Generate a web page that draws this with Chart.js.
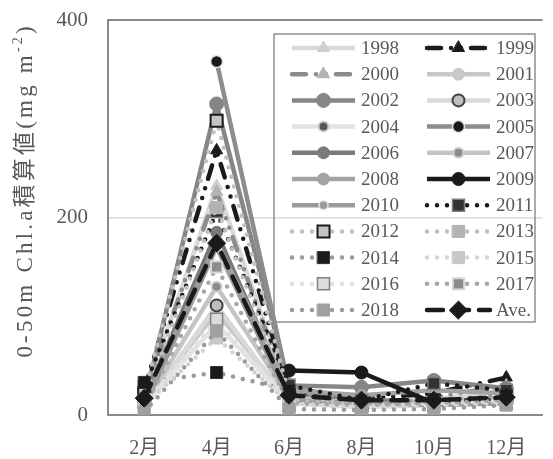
<!DOCTYPE html>
<html>
<head>
<meta charset="utf-8">
<script src="https://cdn.jsdelivr.net/npm/chart.js@4.4.0/dist/chart.umd.min.js"></script>
<style>
  html, body { margin: 0; padding: 0; background: #fff; }
  #wrap { width: 553px; height: 459px; }
</style>
</head>
<body>
<div id="wrap"><canvas id="chlChart"></canvas></div>
<script>
const months = ["2月", "4月", "6月", "8月", "10月", "12月"];
const yTicks = [0, 200, 400];

// 0-50m Chl.a integrated values by year (mg m-2), Feb..Dec
const y1998 = [18, 232, 22, 14, 16, 24];
const y1999 = [26, 268, 24, 16, 22, 38];
const y2000 = [20, 226, 18, 12, 18, 30];
const y2001 = [12, 104, 16, 10, 12, 16];
const y2002 = [14, 315, 30, 28, 35, 27];
const y2003 = [8, 111, 12, 8, 10, 14];
const y2004 = [10, 92, 14, 9, 12, 12];
const y2005 = [null, 358, 28, 16, 12, 15];
const y2006 = [16, 185, 20, 14, 12, 18];
const y2007 = [10, 130, 18, 12, 10, 15];
const y2008 = [12, 175, 25, 20, 25, 22];
const y2009 = [null, null, 45, 43, 12, 18];
const y2010 = [8, 170, 15, 12, 10, 12];
const y2011 = [28, 206, 30, 15, 32, 25];
const y2012 = [22, 298, 20, 10, 15, 18];
const y2013 = [15, 210, 15, 10, 10, 15];
const y2014 = [33, 43, 25, 12, 15, 20];
const y2015 = [10, 78, 12, 8, 12, 14];
const y2016 = [12, 97, 10, 8, 10, 12];
const y2017 = [8, 150, 12, 10, 12, 15];
const y2018 = [3, 85, 6, 5, 6, 10];
const yAve = [17, 174, 20, 15, 15, 18];

const seriesNames = ["1998", "1999", "2000", "2001", "2002", "2003", "2004", "2005",
  "2006", "2007", "2008", "2009", "2010", "2011", "2012", "2013", "2014", "2015",
  "2016", "2017", "2018", "Ave."];
const seriesValues = [y1998, y1999, y2000, y2001, y2002, y2003, y2004, y2005,
  y2006, y2007, y2008, y2009, y2010, y2011, y2012, y2013, y2014, y2015,
  y2016, y2017, y2018, yAve];

const SOLID = [];
const DASH_DOT_DOT = [14, 10, 0, 10, 0, 10];
const DOTS = [0, 10];
const LONG_DASH = [16, 10];

// line colour / dash, marker shape / radius / fill / edge
const styles = [
  { line: "#d9d9d9", dash: SOLID, mark: "triangle", r: 7, fill: "#cfcfcf", edge: "#cfcfcf" },
  { line: "#1a1a1a", dash: DASH_DOT_DOT, mark: "triangle", r: 7, fill: "#1a1a1a", edge: "#1a1a1a" },
  { line: "#8c8c8c", dash: DASH_DOT_DOT, mark: "triangle", r: 7, fill: "#b3b3b3", edge: "#b3b3b3" },
  { line: "#c8c8c8", dash: SOLID, mark: "circle", r: 6, fill: "#c8c8c8", edge: "#c8c8c8" },
  { line: "#868686", dash: SOLID, mark: "circle", r: 7, fill: "#868686", edge: "#868686" },
  { line: "#d9d9d9", dash: SOLID, mark: "circle", r: 6, fill: "#bfbfbf", edge: "#404040", ew: 2 },
  { line: "#e3e3e3", dash: SOLID, mark: "circle", r: 5, fill: "#595959", edge: "#d0d0d0", ew: 2 },
  { line: "#8c8c8c", dash: SOLID, mark: "circle", r: 6, fill: "#1a1a1a", edge: "#e6e6e6", ew: 1.5 },
  { line: "#7a7a7a", dash: SOLID, mark: "circle", r: 6, fill: "#7a7a7a", edge: "#7a7a7a" },
  { line: "#c4c4c4", dash: SOLID, mark: "circle", r: 5, fill: "#8c8c8c", edge: "#d0d0d0", ew: 2 },
  { line: "#a3a3a3", dash: SOLID, mark: "circle", r: 6, fill: "#a3a3a3", edge: "#a3a3a3" },
  { line: "#1a1a1a", dash: SOLID, mark: "circle", r: 6.5, fill: "#1a1a1a", edge: "#1a1a1a" },
  { line: "#9a9a9a", dash: SOLID, mark: "circle", r: 4.5, fill: "#9a9a9a", edge: "#e6e6e6", ew: 1.5 },
  { line: "#1a1a1a", dash: DOTS, mark: "rect", r: 8.5, fill: "#333333", edge: "#808080", ew: 1.5 },
  { line: "#c0c0c0", dash: DOTS, mark: "rect", r: 8.5, fill: "#c4c4c4", edge: "#1a1a1a", ew: 2 },
  { line: "#c0c0c0", dash: DOTS, mark: "rect", r: 8.5, fill: "#b3b3b3", edge: "#b3b3b3" },
  { line: "#9a9a9a", dash: DOTS, mark: "rect", r: 8.5, fill: "#1a1a1a", edge: "#333333" },
  { line: "#d4d4d4", dash: DOTS, mark: "rect", r: 8.5, fill: "#c8c8c8", edge: "#c8c8c8" },
  { line: "#e0e0e0", dash: DOTS, mark: "rect", r: 8.5, fill: "#dcdcdc", edge: "#808080", ew: 1.5 },
  { line: "#a6a6a6", dash: DOTS, mark: "rect", r: 8, fill: "#8c8c8c", edge: "#d9d9d9", ew: 2 },
  { line: "#9a9a9a", dash: DOTS, mark: "rect", r: 8.5, fill: "#a0a0a0", edge: "#a0a0a0" },
  { line: "#1a1a1a", dash: LONG_DASH, mark: "rectRot", r: 9, fill: "#1a1a1a", edge: "#1a1a1a" },
];

const FONT = "'Liberation Serif', 'Noto Sans CJK JP', serif";
const TEXT = "#595959";
const FRAME = "#8a8a8a";

const datasets = seriesNames.map((name, i) => {
  const s = styles[i];
  return {
    label: name,
    data: seriesValues[i],
    borderColor: s.line,
    borderWidth: 4.5,
    borderDash: s.dash,
    borderCapStyle: s.dash.length ? "round" : "butt",
    borderJoinStyle: "round",
    pointStyle: s.mark,
    pointRadius: s.r,
    pointHoverRadius: s.r,
    pointBackgroundColor: s.fill,
    pointBorderColor: s.edge,
    pointBorderWidth: s.ew || 1,
    tension: 0,
    spanGaps: false,
    order: seriesNames.length - 1 - i,
  };
});

// top edge of the plot frame
const framePlugin = {
  id: "frame",
  beforeDatasetsDraw(chart) {
    const { ctx, chartArea: a } = chart;
    ctx.save();
    ctx.strokeStyle = FRAME;
    ctx.lineWidth = 2;
    ctx.beginPath();
    ctx.moveTo(a.left, a.top);
    ctx.lineTo(a.right, a.top);
    ctx.stroke();
    ctx.restore();
  },
};

// rotated y title, drawn glyph by glyph with a little tracking
const yTitlePlugin = {
  id: "yTitle",
  afterDraw(chart) {
    const ctx = chart.ctx;
    const track = 3.2;
    const parts = [
      { t: "0-50m Chl.a積算値(mg m", size: 23, dy: 0 },
      { t: "-2", size: 14, dy: -8 },
      { t: ")", size: 23, dy: 0 },
    ];
    const glyphs = [];
    ctx.save();
    ctx.fillStyle = TEXT;
    ctx.textBaseline = "middle";
    let total = 0;
    parts.forEach((p) => {
      ctx.font = p.size + "px " + FONT;
      Array.from(p.t).forEach((ch) => {
        const w = ctx.measureText(ch).width;
        glyphs.push({ ch, w, size: p.size, dy: p.dy });
        total += w + track;
      });
    });
    total -= track;
    ctx.translate(26, 192);
    ctx.rotate(-Math.PI / 2);
    let x = -total / 2;
    glyphs.forEach((g) => {
      ctx.font = g.size + "px " + FONT;
      ctx.fillText(g.ch, x, g.dy);
      x += g.w + track;
    });
    ctx.restore();
  },
};

// two-column legend with line samples and markers
const legendPlugin = {
  id: "sampleLegend",
  afterDraw(chart) {
    const ctx = chart.ctx;
    const box = { x: 274, y: 34, w: 261, h: 288 };
    const rowH = 26.2;
    const cols = [{ x0: 292, x1: 355, tx: 361 }, { x0: 427, x1: 490, tx: 496 }];
    ctx.save();
    ctx.strokeStyle = "#8f8f8f";
    ctx.lineWidth = 1.5;
    ctx.strokeRect(box.x, box.y, box.w, box.h);
    chart.data.datasets.forEach((ds, i) => {
      const c = cols[i % 2];
      const y = 48 + Math.floor(i / 2) * rowH;
      ctx.save();
      ctx.strokeStyle = ds.borderColor;
      ctx.lineWidth = ds.borderWidth;
      ctx.setLineDash(ds.borderDash);
      ctx.lineCap = ds.borderCapStyle;
      ctx.beginPath();
      ctx.moveTo(c.x0, y);
      ctx.lineTo(c.x1, y);
      ctx.stroke();
      ctx.setLineDash([]);
      ctx.fillStyle = ds.pointBackgroundColor;
      ctx.strokeStyle = ds.pointBorderColor;
      ctx.lineWidth = ds.pointBorderWidth;
      Chart.helpers.drawPoint(ctx, {
        pointStyle: ds.pointStyle,
        radius: ds.pointRadius,
        borderWidth: ds.pointBorderWidth,
        rotation: 0,
      }, (c.x0 + c.x1) / 2, y);
      ctx.restore();
      ctx.fillStyle = TEXT;
      ctx.font = "19px " + FONT;
      ctx.textBaseline = "middle";
      ctx.fillText(ds.label, c.tx, y + 1);
    });
    ctx.restore();
  },
};

new Chart(document.getElementById("chlChart"), {
  type: "line",
  data: { labels: months, datasets },
  options: {
    responsive: true,
    maintainAspectRatio: false,
    animation: false,
    events: [],
    layout: { padding: { top: 20, right: 0, left: 0, bottom: 0 } },
    plugins: {
      legend: { display: false },
      tooltip: { enabled: false },
    },
    scales: {
      x: {
        offset: true,
        grid: { display: false, drawTicks: false, offset: true },
        border: { display: true, color: FRAME, width: 2 },
        ticks: { color: TEXT, font: { family: FONT, size: 20 }, padding: 22 },
        afterFit: (s) => { s.height = 44; s.paddingLeft = 0; s.paddingRight = 0; },
      },
      y: {
        min: 0,
        max: 400,
        afterBuildTicks: (s) => { s.ticks = yTicks.map((v) => ({ value: v })); },
        grid: {
          color: (c) => (c.tick && c.tick.value === 200 ? "#d9d9d9" : "rgba(0,0,0,0)"),
          lineWidth: 1.5,
          drawTicks: false,
        },
        border: { display: true, color: FRAME, width: 2 },
        ticks: { color: TEXT, font: { family: FONT, size: 21 }, padding: 20 },
        afterFit: (s) => { s.width = 108; s.paddingTop = 0; s.paddingBottom = 0; },
      },
    },
  },
  plugins: [framePlugin, yTitlePlugin, legendPlugin],
});
</script>
</body>
</html>
